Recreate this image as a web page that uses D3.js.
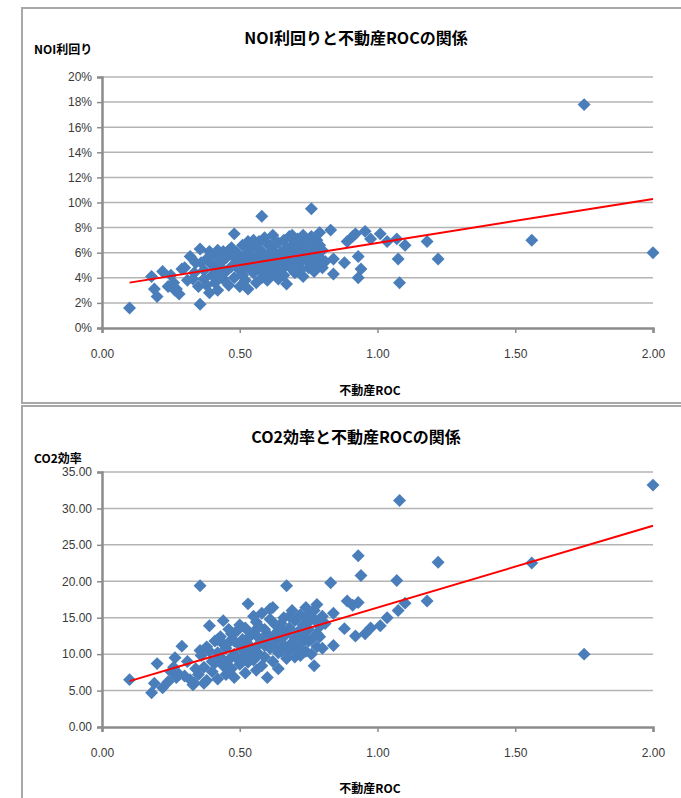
<!DOCTYPE html>
<html>
<head>
<meta charset="utf-8">
<script src="https://cdn.jsdelivr.net/npm/d3@7"></script>
<style>
  body { margin: 0; background: #fff; }
  svg { display: block; font-family: "Noto Sans CJK JP", "Noto Sans", sans-serif; }
</style>
</head>
<body>
<svg id="chart" width="681" height="798"></svg>
<script>
// 不動産ROC (共通のX値)
const roc = [
  0.10, 0.18, 0.19, 0.20, 0.22, 0.24, 0.25, 0.26, 0.265, 0.27,
  0.28, 0.29, 0.30, 0.31, 0.32, 0.33, 0.335, 0.34, 0.35, 0.356,
  0.356, 0.36, 0.37, 0.37, 0.38, 0.38, 0.39, 0.39, 0.40, 0.40,
  0.41, 0.41, 0.42, 0.42, 0.43, 0.43, 0.44, 0.44, 0.45, 0.45,
  0.46, 0.46, 0.47, 0.47, 0.48, 0.48, 0.49, 0.49, 0.50, 0.50,
  0.50, 0.51, 0.51, 0.52, 0.52, 0.52, 0.53, 0.53, 0.53, 0.54,
  0.54, 0.55, 0.55, 0.55, 0.56, 0.56, 0.56, 0.57, 0.57, 0.58,
  0.58, 0.58, 0.59, 0.59, 0.60, 0.60, 0.60, 0.61, 0.61, 0.62,
  0.62, 0.62, 0.63, 0.63, 0.64, 0.64, 0.64, 0.65, 0.65, 0.66,
  0.66, 0.67, 0.67, 0.67, 0.68, 0.68, 0.69, 0.69, 0.70, 0.70,
  0.70, 0.71, 0.71, 0.72, 0.72, 0.72, 0.73, 0.73, 0.74, 0.74,
  0.75, 0.75, 0.76, 0.76, 0.76, 0.77, 0.77, 0.78, 0.78, 0.79,
  0.79, 0.80, 0.80, 0.81, 0.83, 0.84, 0.84, 0.88, 0.89, 0.91,
  0.92, 0.93, 0.93, 0.94, 0.955, 0.975, 1.01, 1.035, 1.07, 1.075,
  1.08, 1.10, 1.18, 1.22, 1.56, 1.75, 2.00,
  0.46, 0.48, 0.51, 0.53, 0.54, 0.57, 0.59, 0.61, 0.63, 0.65,
  0.66, 0.68, 0.69, 0.71, 0.73, 0.74, 0.75, 0.77, 0.78, 0.79,
  0.44, 0.42
];

// NOI利回り (%)
const noiYield = [
  1.6, 4.1, 3.1, 2.5, 4.5, 3.3, 4.2, 3.6, 3.0, 3.1,
  2.7, 4.7, 4.8, 3.8, 5.7, 3.9, 4.4, 5.2, 3.3, 1.9,
  6.3, 5.2, 4.6, 3.9, 5.5, 3.4, 6.1, 2.8, 4.2, 5.0,
  3.6, 5.8, 4.4, 3.0, 5.3, 4.8, 6.1, 3.9, 5.6, 4.5,
  5.9, 3.4, 4.9, 6.4, 7.5, 4.0, 5.2, 6.0, 4.6, 5.5,
  3.3, 6.6, 4.2, 5.0, 5.8, 3.8, 6.9, 3.1, 4.8, 5.4,
  6.3, 4.4, 5.1, 7.0, 3.6, 5.7, 6.5, 4.7, 5.3, 8.9,
  6.1, 4.0, 5.5, 7.2, 4.5, 6.7, 3.8, 5.9, 5.0, 7.4,
  4.3, 6.2, 5.6, 4.8, 6.8, 3.9, 5.3, 6.0, 4.6, 7.0,
  5.1, 3.5, 6.4, 5.8, 4.9, 7.3, 5.4, 6.6, 4.4, 6.1,
  5.0, 7.1, 5.7, 4.6, 6.5, 5.2, 7.4, 4.1, 6.0, 5.5,
  6.8, 4.8, 9.5, 5.9, 7.3, 4.5, 6.4, 5.1, 7.0, 5.6,
  6.6, 4.8, 6.2, 5.3, 7.8, 5.5, 4.3, 5.2, 6.9, 7.3,
  7.5, 5.7, 4.0, 4.7, 7.7, 7.1, 7.5, 6.9, 7.1, 5.5,
  3.6, 6.6, 6.9, 5.5, 7.0, 17.8, 6.0,
  6.2, 5.6, 5.4, 6.0, 4.6, 6.9, 4.8, 6.6, 6.8, 5.5,
  4.2, 6.0, 7.4, 4.9, 6.2, 6.9, 5.3, 5.4, 6.1, 7.6,
  5.4, 6.2
];

// CO2効率
const co2Eff = [
  6.5, 4.7, 6.0, 8.7, 5.4, 6.2, 7.6, 8.2, 9.5, 6.8,
  7.2, 11.1, 7.0, 9.0, 6.5, 5.8, 6.0, 8.0, 7.2, 19.4,
  10.5, 9.8, 8.2, 6.0, 11.0, 6.4, 10.4, 13.9, 9.0, 7.6,
  11.8, 8.8, 10.2, 6.6, 9.6, 12.4, 14.6, 8.4, 10.8, 7.2,
  11.6, 9.2, 12.8, 8.0, 10.0, 6.8, 13.2, 9.4, 11.2, 14.0,
  8.6, 10.6, 12.0, 7.4, 13.6, 9.8, 16.9, 11.4, 8.9, 12.6,
  10.2, 15.2, 9.2, 13.0, 11.0, 7.8, 14.4, 12.2, 10.0, 11.8,
  15.6, 8.4, 13.4, 9.6, 11.4, 12.8, 6.8, 16.2, 10.8, 16.4,
  12.4, 9.0, 14.0, 11.0, 10.2, 13.2, 8.0, 14.2, 12.0, 11.2,
  15.0, 19.4, 9.4, 12.8, 10.6, 13.6, 11.6, 16.0, 9.6, 12.2,
  14.6, 10.8, 13.0, 11.4, 15.4, 9.8, 12.6, 14.0, 10.4, 16.4,
  11.8, 13.4, 15.8, 12.0, 10.0, 8.4, 14.8, 11.0, 16.8, 13.8,
  12.4, 15.2, 10.8, 14.2, 19.8, 15.6, 11.2, 13.5, 17.3, 16.7,
  12.5, 23.5, 17.1, 20.8, 12.8, 13.6, 13.9, 15.0, 20.1, 16.0,
  31.1, 17.0, 17.3, 22.6, 22.5, 10.0, 33.2,
  13.4, 11.8, 9.0, 12.2, 10.8, 13.8, 11.2, 14.8, 12.0, 10.4,
  13.0, 15.2, 11.0, 12.4, 13.4, 15.0, 14.4, 16.0, 12.8, 14.6,
  11.4, 12.0
];

const rocTicks = [0, 0.5, 1.0, 1.5, 2.0];
const noiTicks = [0, 2, 4, 6, 8, 10, 12, 14, 16, 18, 20];
const co2Ticks = [0, 5, 10, 15, 20, 25, 30, 35];

const svg = d3.select("#chart");
const plotLeft = 102, plotRight = 653;

// 最小二乗法で近似直線
function linFit(xs, ys) {
  const mx = d3.mean(xs), my = d3.mean(ys);
  let sxy = 0, sxx = 0;
  xs.forEach((x, i) => { sxy += (x - mx) * (ys[i] - my); sxx += (x - mx) * (x - mx); });
  const slope = sxy / sxx;
  return {slope, intercept: my - slope * mx};
}

function drawChart(cfg) {
  // 外枠
  svg.append("rect")
    .attr("x", 22).attr("y", cfg.frameTop)
    .attr("width", 680).attr("height", cfg.frameHeight)
    .attr("fill", "none")
    .attr("stroke", "#a8a8a8")
    .attr("stroke-width", 2);

  const x = d3.scaleLinear().domain([0, 2]).range([plotLeft, plotRight]);
  const y = d3.scaleLinear().domain([0, d3.max(cfg.ticks)]).range([cfg.bottom, cfg.top]);

  const g = svg.append("g");

  // グリッド線
  g.selectAll(".grid")
    .data(cfg.ticks.slice(1))
    .join("line")
    .attr("class", "grid")
    .attr("x1", plotLeft).attr("x2", plotRight)
    .attr("y1", d => y(d)).attr("y2", d => y(d))
    .attr("stroke", "#b4b4b4")
    .attr("stroke-width", 1.5);

  // Y軸
  const yAxis = g.append("g")
    .attr("transform", `translate(${plotLeft},0)`)
    .call(d3.axisLeft(y).tickValues(cfg.ticks).tickFormat(cfg.fmt).tickSize(5).tickPadding(5));
  // X軸
  const xAxis = g.append("g")
    .attr("transform", `translate(0,${cfg.bottom})`)
    .call(d3.axisBottom(x).tickValues(rocTicks).tickFormat(d3.format(".2f")).tickSize(5).tickPadding(16));

  [yAxis, xAxis].forEach(a => {
    a.select(".domain").attr("stroke", "#8c8c8c").attr("stroke-width", 2.5);
    a.selectAll(".tick line").attr("stroke", "#8c8c8c").attr("stroke-width", 1.5);
    a.selectAll(".tick text")
      .attr("fill", "#3a3a3a")
      .style("font-size", "12px")
      .style("font-family", "'Liberation Sans', sans-serif");
  });

  // 散布図 (ひし形マーカー)
  g.selectAll(".pt")
    .data(roc.map((r, i) => ({r, v: cfg.values[i]})))
    .join("path")
    .attr("class", "pt")
    .attr("d", d3.symbol(d3.symbolSquare, 84))
    .attr("transform", d => `translate(${x(d.r)},${y(d.v)}) rotate(45)`)
    .attr("fill", "#4a7ebb");

  // 近似直線
  const fit = linFit(roc, cfg.values);
  const xr = d3.extent(roc);
  g.append("line")
    .attr("x1", x(xr[0])).attr("y1", y(fit.intercept + fit.slope * xr[0]))
    .attr("x2", x(xr[1])).attr("y2", y(fit.intercept + fit.slope * xr[1]))
    .attr("stroke", "#ff0000")
    .attr("stroke-width", 2);

  // タイトル
  svg.append("text")
    .attr("x", 356).attr("y", cfg.titleY)
    .attr("text-anchor", "middle")
    .style("font-size", "16px")
    .style("font-weight", "bold")
    .text(cfg.title);

  svg.append("text")
    .attr("x", 34).attr("y", cfg.yTitleY)
    .style("font-size", "12px")
    .style("font-weight", "bold")
    .text(cfg.yTitle);

  svg.append("text")
    .attr("x", 370).attr("y", cfg.xTitleY)
    .attr("text-anchor", "middle")
    .style("font-size", "12px")
    .style("font-weight", "bold")
    .text("不動産ROC");
}

drawChart({
  frameTop: 8, frameHeight: 395,
  top: 77, bottom: 328,
  ticks: noiTicks, fmt: d => d + "%",
  values: noiYield,
  title: "NOI利回りと不動産ROCの関係",
  yTitle: "NOI利回り",
  titleY: 44, yTitleY: 54, xTitleY: 395
});

drawChart({
  frameTop: 406, frameHeight: 400,
  top: 472, bottom: 727,
  ticks: co2Ticks, fmt: d3.format(".2f"),
  values: co2Eff,
  title: "CO2効率と不動産ROCの関係",
  yTitle: "CO2効率",
  titleY: 443, yTitleY: 463, xTitleY: 793
});
</script>
</body>
</html>
